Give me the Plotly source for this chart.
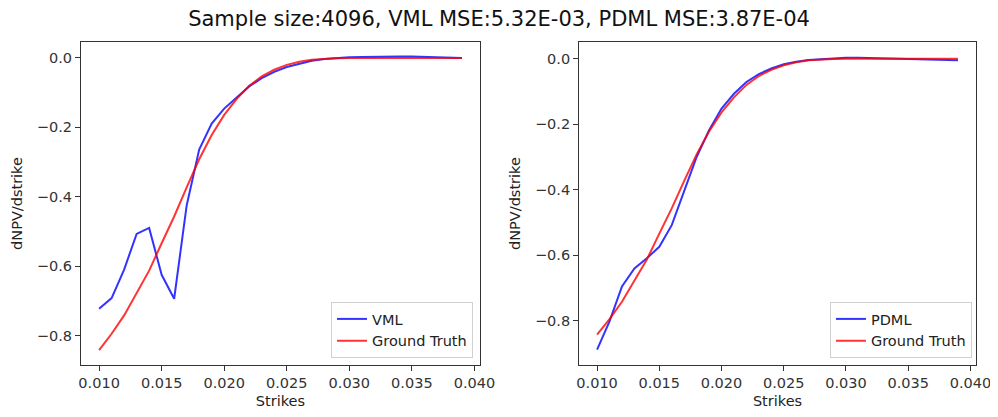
import plotly.graph_objects as go

strikes = [round(0.010 + 0.001 * i, 3) for i in range(30)]

vml = [-0.723, -0.692, -0.610, -0.507, -0.490, -0.625, -0.694, -0.425, -0.264, -0.189,
       -0.146, -0.113, -0.082, -0.058, -0.040, -0.026, -0.016, -0.008, -0.003, 0.000,
       0.002, 0.003, 0.004, 0.004, 0.004, 0.004, 0.003, 0.002, 0.001, 0.000]

pdml = [-0.888, -0.802, -0.695, -0.640, -0.609, -0.574, -0.508, -0.401, -0.300, -0.218,
        -0.152, -0.107, -0.071, -0.047, -0.030, -0.017, -0.009, -0.004, -0.001, 0.002,
        0.003, 0.003, 0.002, 0.001, 0.000, -0.001, -0.002, -0.003, -0.004, -0.005]

truth = [-0.842, -0.795, -0.742, -0.679, -0.613, -0.534, -0.457, -0.373, -0.292, -0.222,
         -0.164, -0.118, -0.080, -0.053, -0.034, -0.020, -0.011, -0.005, -0.002, -0.001,
         0.000, 0.000, 0.000, 0.000, 0.000, 0.000, 0.000, 0.000, 0.000, 0.000]

title_text = "Sample size:4096, VML MSE:5.32E-03, PDML MSE:3.87E-04"
x_label = "Strikes"
y_label = "dNPV/dstrike"

BLUE = "rgba(0,0,255,0.8)"
RED = "rgba(255,0,0,0.8)"
FONT = "DejaVu Sans"
FS = 14.5

fig = go.Figure()
fig.add_trace(go.Scatter(x=strikes, y=vml, mode="lines", name="VML",
                         line=dict(color=BLUE, width=2), xaxis="x", yaxis="y", legend="legend"))
fig.add_trace(go.Scatter(x=strikes, y=truth, mode="lines", name="Ground Truth",
                         line=dict(color=RED, width=2), xaxis="x", yaxis="y", legend="legend"))
fig.add_trace(go.Scatter(x=strikes, y=pdml, mode="lines", name="PDML",
                         line=dict(color=BLUE, width=2), xaxis="x2", yaxis="y2", legend="legend2"))
fig.add_trace(go.Scatter(x=strikes, y=truth, mode="lines", name="Ground Truth",
                         line=dict(color=RED, width=2), xaxis="x2", yaxis="y2", legend="legend2"))

def xax(domain, anchor):
    return dict(domain=domain, anchor=anchor, range=[0.00855, 0.04045], automargin=False,
                tick0=0, dtick=0.005, tickformat=".3f",
                showline=True, mirror=True, linecolor="#333", linewidth=1,
                ticks="outside", ticklen=5, tickcolor="#333", showgrid=False, zeroline=False,
                tickfont=dict(family=FONT, size=FS, color="#333"),
                title=dict(text=x_label, font=dict(family=FONT, size=FS, color="#222"), standoff=5))

def yax(domain, anchor, rng):
    return dict(domain=domain, anchor=anchor, range=rng, automargin=False,
                tick0=0, dtick=0.2, tickformat=".1f",
                showline=True, mirror=True, linecolor="#333", linewidth=1,
                ticks="outside", ticklen=5, tickcolor="#333", showgrid=False, zeroline=False,
                tickfont=dict(family=FONT, size=FS, color="#333"),
                title=dict(text=y_label, font=dict(family=FONT, size=FS, color="#222"), standoff=10))

ydom = [0.1271, 0.9169]
legend_style = dict(xanchor="right", yanchor="bottom", bgcolor="rgba(255,255,255,0.8)",
                    bordercolor="#d0d0d0", borderwidth=1, itemwidth=30,
                    font=dict(family=FONT, size=FS, color="#222"), tracegroupgap=0)

fig.update_layout(
    width=990, height=409,
    margin=dict(l=0, r=0, t=0, b=0, autoexpand=False),
    paper_bgcolor="white", plot_bgcolor="white",
    title=dict(text=title_text, x=0.496, xanchor="center", y=0.991, yanchor="top",
               pad=dict(t=0, b=0, l=0, r=0),
               font=dict(family=FONT, size=21, color="#111")),
    xaxis=xax([0.0737, 0.4768], "y"),
    yaxis=yax(ydom, "x", [-0.885, 0.046]),
    xaxis2=xax([0.5768, 0.9778], "y2"),
    yaxis2=yax(ydom, "x2", [-0.935, 0.051]),
    legend=dict(x=0.4697, y=0.1443, **legend_style),
    legend2=dict(x=0.9737, y=0.1443, **legend_style),
)

fig.write_html("out.html")
